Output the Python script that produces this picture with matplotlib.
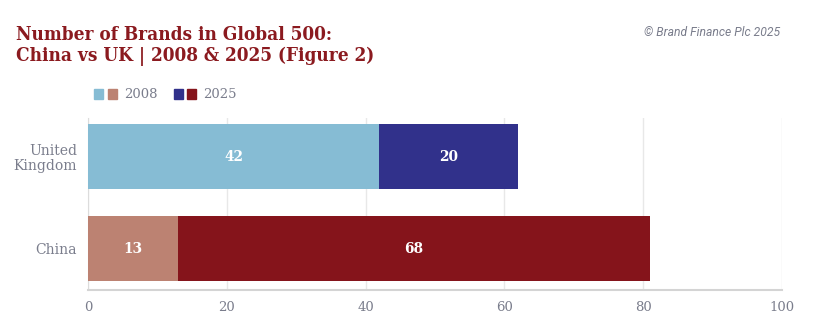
import numpy as np
import matplotlib.pyplot as plt
from matplotlib.patches import Rectangle

# ------------------------------------------------------------------------------
# brand counts in the Global 500
countries = ['China', 'United\nKingdom']
brands_2008 = [13, 42]
brands_2025 = [68, 20]
colors_2008 = ['#bc8272', '#86bcd4']
colors_2025 = ['#85141b', '#31318b']
xticks = [0, 20, 40, 60, 80, 100]

TITLE_RED = '#8b1a1f'
GREY = '#7a7d8c'
SERIF = 'DejaVu Serif'

# ------------------------------------------------------------------------------
fig = plt.figure(figsize=(8.17, 3.27), dpi=100)
ax = fig.add_axes([88 / 817, 1 - 290 / 327, (782 - 88) / 817, (290 - 118) / 327])

y = np.arange(len(countries))
ax.barh(y, brands_2008, height=0.7, color=colors_2008, zorder=3)
ax.barh(y, brands_2025, left=brands_2008, height=0.7, color=colors_2025, zorder=3)

# value labels in the middle of each segment
for i in range(len(countries)):
    ax.text(brands_2008[i] / 2, y[i], str(brands_2008[i]), ha='center', va='center',
            color='white', fontsize=11, fontweight='bold', family=SERIF,
            fontstretch='condensed', zorder=4)
    ax.text(brands_2008[i] + brands_2025[i] / 2, y[i], str(brands_2025[i]), ha='center',
            va='center', color='white', fontsize=11, fontweight='bold', family=SERIF,
            fontstretch='condensed', zorder=4)

ax.set_xlim(0, 100)
ax.set_ylim(-0.45, 1.42)
ax.set_xticks(xticks)
ax.set_xticklabels([str(t) for t in xticks], family=SERIF, fontsize=9.5, color=GREY)
ax.set_yticks(y)
ax.set_yticklabels(countries, family=SERIF, fontsize=10, color=GREY, linespacing=1.1)
ax.tick_params(length=0, pad=8)
ax.tick_params(axis='y', pad=8)
ax.grid(axis='x', color='#e8e8e8', linewidth=1, zorder=0)
for side in ['top', 'right']:
    ax.spines[side].set_visible(False)
ax.spines['left'].set_color('#dcdcdc')
ax.spines['bottom'].set_color('#d4d4d4')
ax.spines['bottom'].set_linewidth(1.5)

# ------------------------------------------------------------------------------
fig.text(16 / 817, 1 - 40 / 327, 'Number of Brands in Global 500:', ha='left', va='baseline',
         family=SERIF, fontstretch='condensed', fontweight='bold', fontsize=13.6,
         color=TITLE_RED)
fig.text(16 / 817, 1 - 60.5 / 327, 'China vs UK | 2008 & 2025 (Figure 2)', ha='left', va='baseline',
         family=SERIF, fontstretch='condensed', fontweight='bold', fontsize=13.6,
         color=TITLE_RED)
fig.text(780 / 817, 1 - 32 / 327, '\u00a9 Brand Finance Plc 2025', ha='right', va='center',
         family='Roboto', style='italic', fontsize=8.7, color=GREY)

# legend: two swatches per year
leg_y = 1 - 94 / 327
sw = 9 / 817
swh = 9 / 327
for x0, col in [(94, colors_2008[1]), (108, colors_2008[0]),
                (174, colors_2025[1]), (187, colors_2025[0])]:
    fig.patches.append(Rectangle((x0 / 817, leg_y - swh / 2), sw, swh, color=col,
                                 transform=fig.transFigure, figure=fig))
fig.text(124 / 817, leg_y, '2008', ha='left', va='center', family=SERIF, fontsize=9.5, color=GREY)
fig.text(203 / 817, leg_y, '2025', ha='left', va='center', family=SERIF, fontsize=9.5, color=GREY)

fig.savefig('out.png', dpi=100)
